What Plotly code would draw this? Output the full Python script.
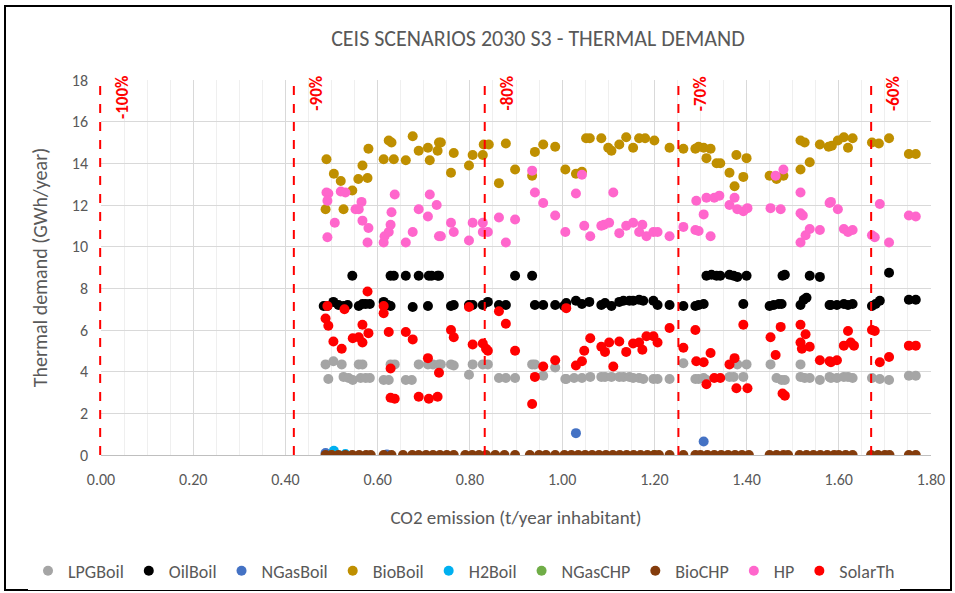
import plotly.graph_objects as go

# scenario points: CO2 emission (t/year inhabitant) vs thermal demand (GWh/year)
lpg_x = [0.487, 0.504, 0.522, 0.559, 0.567, 0.628, 0.637, 0.689, 0.709, 0.72, 0.733, 0.737, 0.759, 0.765,
         0.806, 0.828, 0.839, 0.935, 0.941, 0.985, 1.263, 1.38, 1.4, 1.452, 1.517,
         0.493, 0.526, 0.537, 0.546, 0.563, 0.574, 0.583, 0.613, 0.624, 0.661, 0.674, 0.798, 0.863, 0.878,
         0.898, 0.959, 1.007, 1.009, 1.026, 1.043, 1.061, 1.085, 1.093, 1.107, 1.124, 1.133, 1.146, 1.154,
         1.167, 1.176, 1.198, 1.207, 1.233, 1.289, 1.296, 1.307, 1.313, 1.363, 1.372, 1.393, 1.465, 1.476,
         1.483, 1.517, 1.526, 1.537, 1.559, 1.58, 1.583, 1.596, 1.611, 1.62, 1.63, 1.672, 1.689, 1.709,
         1.752, 1.767]
lpg_y = [4.35, 4.5, 4.35, 4.35, 4.35, 4.35, 4.35, 4.35, 4.35, 4.35, 4.35, 4.35, 4.35, 4.3,
         4.35, 4.35, 4.35, 4.35, 4.35, 4.2, 4.4, 4.35, 4.35, 4.35, 4.35,
         3.65, 3.75, 3.7, 3.6, 3.7, 3.7, 3.7, 3.6, 3.6, 3.6, 3.6, 3.85, 3.7, 3.7,
         3.7, 3.8, 3.65, 3.65, 3.7, 3.7, 3.75, 3.75, 3.75, 3.75, 3.75, 3.75, 3.75, 3.7,
         3.7, 3.65, 3.65, 3.65, 3.65, 3.65, 3.65, 3.7, 3.6, 3.75, 3.75, 3.75, 3.7, 3.6,
         3.6, 3.75, 3.7, 3.7, 3.6, 3.75, 3.7, 3.7, 3.75, 3.75, 3.7, 3.7, 3.65, 3.6,
         3.8, 3.8]

oil_x = [0.545, 0.628, 0.635, 0.661, 0.689, 0.711, 0.717, 0.73, 0.733, 0.898, 0.935, 1.313, 1.324, 1.335,
         1.343, 1.363, 1.372, 1.38, 1.4, 1.478, 1.483, 1.537, 1.559, 1.709,
         0.483, 0.491, 0.504, 0.515, 0.526, 0.535, 0.559, 0.567, 0.574, 0.583, 0.613, 0.622, 0.628, 0.676,
         0.709, 0.759, 0.765, 0.798, 0.806, 0.828, 0.839, 0.863, 0.878, 0.941, 0.959, 0.985, 1.004, 1.009,
         1.03, 1.043, 1.059, 1.085, 1.093, 1.107, 1.124, 1.133, 1.146, 1.154, 1.167, 1.176, 1.198, 1.207,
         1.233, 1.263, 1.289, 1.296, 1.307, 1.393, 1.45, 1.459, 1.47, 1.476, 1.517, 1.524, 1.53, 1.58,
         1.583, 1.596, 1.611, 1.62, 1.63, 1.672, 1.68, 1.689, 1.752, 1.767]
oil_y = [8.6, 8.6, 8.6, 8.6, 8.6, 8.6, 8.6, 8.6, 8.6, 8.6, 8.6, 8.6, 8.65, 8.6,
         8.6, 8.65, 8.6, 8.55, 8.6, 8.6, 8.65, 8.6, 8.55, 8.75,
         7.15, 7.15, 7.35, 7.2, 7.15, 7.2, 7.15, 7.25, 7.25, 7.25, 7.35, 7.2, 7.15, 7.1,
         7.15, 7.15, 7.2, 7.2, 7.2, 7.2, 7.35, 7.2, 7.2, 7.2, 7.2, 7.2, 7.15, 7.3,
         7.4, 7.25, 7.35, 7.2, 7.3, 7.15, 7.35, 7.4, 7.4, 7.4, 7.45, 7.4, 7.4, 7.2,
         7.2, 7.15, 7.15, 7.2, 7.25, 7.25, 7.15, 7.2, 7.25, 7.25, 7.2, 7.45, 7.55, 7.2,
         7.2, 7.2, 7.25, 7.2, 7.25, 7.15, 7.25, 7.4, 7.45, 7.45]

ngasboil_x = [0.487, 0.62, 1.03, 1.307]
ngasboil_y = [0.1, 0.02, 1.05, 0.65]

bioboil_x = [0.489, 0.505, 0.52, 0.545, 0.558, 0.567, 0.578, 0.58, 0.487, 0.526, 0.613, 0.624, 0.63, 0.635,
             0.661, 0.676, 0.689, 0.709, 0.713, 0.733, 0.737, 0.73, 0.765, 0.759, 0.798, 0.806, 0.828, 0.83,
             0.841, 0.863, 0.878, 0.898, 0.935, 0.941, 0.959, 0.985, 1.007, 1.03, 1.043, 1.052, 1.06, 1.085,
             1.1, 1.107, 1.124, 1.139, 1.154, 1.167, 1.18, 1.2, 1.233, 1.263, 1.289, 1.296, 1.307, 1.322,
             1.313, 1.335, 1.343, 1.363, 1.378, 1.4, 1.374, 1.393, 1.45, 1.465, 1.48, 1.517, 1.526, 1.537,
             1.559, 1.517, 1.578, 1.585, 1.598, 1.611, 1.62, 1.63, 1.672, 1.687, 1.709, 1.752, 1.767]
bioboil_y = [14.2, 13.5, 13.15, 12.7, 13.25, 13.9, 13.3, 14.7, 11.8, 11.8, 14.2, 15.1, 15.0, 14.2,
             14.15, 15.3, 14.6, 14.75, 14.15, 15.0, 15.0, 14.6, 14.5, 13.55, 13.9, 14.4, 14.4, 14.9,
             14.9, 13.05, 14.95, 13.7, 13.4, 14.55, 14.9, 14.8, 13.7, 13.5, 13.6, 15.2, 15.2, 15.2,
             14.75, 14.6, 14.9, 15.25, 14.75, 15.2, 15.2, 15.1, 14.75, 14.7, 14.7, 14.8, 14.75, 14.7,
             14.25, 14.0, 14.0, 13.55, 14.4, 14.25, 12.9, 13.35, 13.4, 13.25, 13.4, 15.1, 15.0, 14.05,
             14.9, 13.7, 14.8, 14.85, 15.1, 15.25, 14.75, 15.2, 15.0, 14.95, 15.2, 14.45, 14.45]

h2boil_x = [0.505, 0.53]
h2boil_y = [0.2, 0.05]

ngaschp_x = [0.5, 1.2]
ngaschp_y = [0, 0]

biochp_x = [0.487, 0.5, 0.515, 0.53, 0.545, 0.56, 0.575, 0.585, 0.613, 0.63, 0.655, 0.675, 0.689, 0.705,
            0.72, 0.735, 0.75, 0.765, 0.79, 0.805, 0.82, 0.835, 0.855, 0.875, 0.898, 0.93, 0.95, 0.965,
            0.985, 1.005, 1.02, 1.035, 1.05, 1.065, 1.08, 1.095, 1.11, 1.125, 1.14, 1.155, 1.17, 1.185,
            1.2, 1.21, 1.233, 1.263, 1.289, 1.3, 1.315, 1.33, 1.345, 1.36, 1.375, 1.39, 1.405, 1.45,
            1.465, 1.48, 1.49, 1.515, 1.53, 1.545, 1.56, 1.575, 1.59, 1.6, 1.615, 1.63, 1.67, 1.685,
            1.7, 1.71, 1.752, 1.767]
biochp_y = [0, 0, 0, 0, 0, 0, 0, 0, 0, 0, 0, 0, 0, 0,
            0, 0, 0, 0, 0, 0, 0, 0, 0, 0, 0, 0, 0, 0,
            0, 0, 0, 0, 0, 0, 0, 0, 0, 0, 0, 0, 0, 0,
            0, 0, 0, 0, 0, 0, 0, 0, 0, 0, 0, 0, 0, 0,
            0, 0, 0, 0, 0, 0, 0, 0, 0, 0, 0, 0, 0, 0,
            0, 0, 0, 0]

hp_x = [0.489, 0.493, 0.491, 0.52, 0.53, 0.507, 0.491, 0.552, 0.565, 0.559, 0.567, 0.58, 0.578, 0.613,
        0.615, 0.624, 0.628, 0.63, 0.637, 0.661, 0.676, 0.689, 0.709, 0.713, 0.728, 0.733, 0.737, 0.759,
        0.765, 0.798, 0.806, 0.828, 0.828, 0.839, 0.863, 0.878, 0.898, 0.935, 0.941, 0.959, 0.985, 1.007,
        1.03, 1.043, 1.048, 1.061, 1.085, 1.091, 1.102, 1.111, 1.124, 1.139, 1.154, 1.167, 1.174, 1.183,
        1.198, 1.207, 1.233, 1.263, 1.289, 1.291, 1.307, 1.313, 1.296, 1.322, 1.33, 1.341, 1.363, 1.374,
        1.38, 1.393, 1.402, 1.452, 1.474, 1.463, 1.48, 1.517, 1.517, 1.522, 1.517, 1.528, 1.537, 1.559,
        1.58, 1.583, 1.598, 1.611, 1.62, 1.63, 1.672, 1.678, 1.689, 1.709, 1.752, 1.767]
hp_y = [12.6, 12.55, 12.2, 12.65, 12.6, 11.15, 10.45, 11.8, 12.15, 11.8, 11.25, 10.9, 10.2, 10.2,
        10.5, 10.7, 11.05, 11.65, 12.5, 10.2, 10.7, 11.8, 11.45, 12.5, 12.0, 10.5, 10.5, 11.15,
        10.7, 10.3, 11.15, 11.15, 10.7, 10.7, 11.4, 10.2, 11.3, 13.65, 12.6, 12.1, 11.5, 10.7,
        12.55, 13.45, 11.0, 10.5, 11.0, 11.05, 11.15, 12.6, 10.65, 11.0, 11.15, 10.7, 11.05, 10.5,
        10.7, 10.7, 10.5, 10.95, 10.8, 12.2, 11.55, 12.35, 10.75, 10.5, 12.35, 12.45, 12.0, 12.35,
        11.8, 11.7, 11.85, 11.85, 11.8, 13.4, 13.7, 12.6, 11.6, 11.5, 10.2, 10.55, 10.85, 10.8,
        12.1, 12.15, 11.8, 10.85, 10.7, 10.8, 10.55, 10.45, 12.05, 10.2, 11.5, 11.45]

solar_x = [0.491, 0.528, 0.578, 0.613, 0.613, 0.487, 0.493, 0.567, 0.58, 0.624, 0.661, 0.676, 0.504, 0.522,
           0.546, 0.559, 0.567, 0.628, 0.709, 0.628, 0.637, 0.689, 0.711, 0.73, 0.733, 0.759, 0.765, 0.798,
           0.806, 0.828, 0.835, 0.839, 0.863, 0.878, 0.898, 0.935, 0.941, 0.959, 0.985, 1.009, 1.03, 1.043,
           1.048, 1.061, 1.085, 1.093, 1.102, 1.111, 1.124, 1.139, 1.154, 1.167, 1.174, 1.183, 1.198, 1.207,
           1.233, 1.263, 1.289, 1.291, 1.307, 1.322, 1.313, 1.33, 1.343, 1.363, 1.374, 1.378, 1.402, 1.393,
           1.452, 1.463, 1.474, 1.478, 1.483, 1.517, 1.528, 1.517, 1.52, 1.537, 1.559, 1.58, 1.583, 1.596,
           1.611, 1.62, 1.626, 1.633, 1.672, 1.678, 1.689, 1.709, 1.752, 1.767]
solar_y = [7.15, 7.0, 7.85, 7.15, 6.8, 6.55, 6.2, 6.25, 5.85, 5.9, 5.9, 5.55, 5.45, 5.1,
           5.6, 5.65, 5.4, 4.15, 4.65, 2.75, 2.7, 2.8, 2.7, 2.8, 3.95, 6.0, 5.65, 7.1,
           5.3, 5.35, 5.1, 5.0, 6.9, 6.3, 5.0, 2.45, 3.75, 4.25, 4.55, 7.05, 4.3, 4.5,
           5.0, 5.6, 5.2, 4.95, 5.4, 4.25, 5.45, 4.95, 5.35, 5.4, 5.05, 5.7, 5.7, 5.4,
           6.1, 5.15, 6.0, 4.5, 4.45, 4.9, 3.4, 3.7, 3.7, 4.35, 4.65, 3.2, 3.2, 6.25,
           5.65, 4.8, 6.15, 2.95, 2.85, 6.25, 5.8, 5.4, 5.1, 5.2, 4.55, 4.5, 4.45, 4.55,
           5.25, 5.95, 5.4, 5.25, 6.0, 5.95, 4.45, 4.7, 5.25, 5.25]

# CO2 reduction targets shown as dashed lines
target_labels = ["-100%", "-90%", "-80%", "-70%", "-60%"]
target_x = [0.0, 0.42, 0.834, 1.254, 1.672]

X_MAX = 1.8
Y_MAX = 18

series = [
    ("LPGBoil", lpg_x, lpg_y, "#A5A5A5"),
    ("OilBoil", oil_x, oil_y, "#000000"),
    ("NGasBoil", ngasboil_x, ngasboil_y, "#4472C4"),
    ("BioBoil", bioboil_x, bioboil_y, "#BF8F00"),
    ("H2Boil", h2boil_x, h2boil_y, "#00B0F0"),
    ("NGasCHP", ngaschp_x, ngaschp_y, "#70AD47"),
    ("BioCHP", biochp_x, biochp_y, "#843C0C"),
    ("HP", hp_x, hp_y, "#FF66CC"),
    ("SolarTh", solar_x, solar_y, "#FF0000"),
]

FONT = "Calibri, Carlito, Lato, sans-serif"
GREY = "#595959"

fig = go.Figure()
for name, xs, ys, col in series:
    fig.add_trace(go.Scatter(
        x=xs, y=ys, mode="markers", name=name,
        marker=dict(size=10, color=col),
    ))

for lab, xv in zip(target_labels, target_x):
    # paper refs so the line on the y axis is not half clipped
    fig.add_shape(type="line", xref="paper", yref="paper", x0=xv / X_MAX - 0.001, x1=xv / X_MAX - 0.001,
                  y0=0, y1=1, line=dict(color="#FF0000", width=2, dash="dash"))
    fig.add_annotation(x=xv, y=Y_MAX, xref="x", yref="y", text=lab, showarrow=False,
                       textangle=-90, xanchor="left", yanchor="top", xshift=9, yshift=6,
                       font=dict(family=FONT, size=17, color="#FF0000", weight="bold"))

# outer chart border (paper coords relative to the plot area)
L, T, W, H = 101, 80, 830, 375
fig.add_shape(type="rect", xref="paper", yref="paper",
              x0=(5 - L) / W, x1=(951 - L) / W, y0=(T + H - 590) / H, y1=(T + H - 6) / H,
              line=dict(color="#000000", width=2), layer="below")

fig.update_layout(
    width=955, height=593,
    margin=dict(l=L, r=955 - L - W, t=T, b=593 - T - H, autoexpand=False),
    paper_bgcolor="white", plot_bgcolor="white",
    font=dict(family=FONT, color=GREY, size=16),
    title=dict(text="CEIS SCENARIOS 2030 S3 - THERMAL DEMAND", x=(538 - L) / W, xref="paper",
               xanchor="center", y=1 - 38 / 593, yanchor="middle", font=dict(size=22, color=GREY)),
    showlegend=True,
    # x < 0 with a left anchor lets a horizontal legend use the width left of the plot too
    legend=dict(orientation="h", x=(28 - L) / W, xanchor="left", y=-116 / H, yanchor="middle",
                font=dict(size=18, color=GREY), itemwidth=30, tracegroupgap=0),
)
fig.update_xaxes(
    range=[0, X_MAX], dtick=0.2, tickformat=".2f", showgrid=True, gridcolor="#D9D9D9",
    minor=dict(dtick=0.05, showgrid=True, gridcolor="#EFEFEF"),
    showline=True, linecolor="#BFBFBF", zeroline=False, ticks="", automargin=False,
    ticklabelstandoff=10,
    title=dict(text="CO2 emission (t/year inhabitant)", font=dict(size=19, color=GREY), standoff=22),
    tickfont=dict(size=16, color=GREY),
)
fig.update_yaxes(
    range=[0, Y_MAX], dtick=2, showgrid=True, gridcolor="#D9D9D9", zeroline=False,
    showline=False, ticks="", automargin=False, ticklabelstandoff=12,
    title=dict(text="Thermal demand (GWh/year)", font=dict(size=20, color=GREY), standoff=18),
    tickfont=dict(size=16, color=GREY),
)

# the page body has a default 8px margin; drop it so the chart sits at the window corner
fig.write_html("out.html", config={"displayModeBar": False},
               post_script="document.body.style.margin='0';")
